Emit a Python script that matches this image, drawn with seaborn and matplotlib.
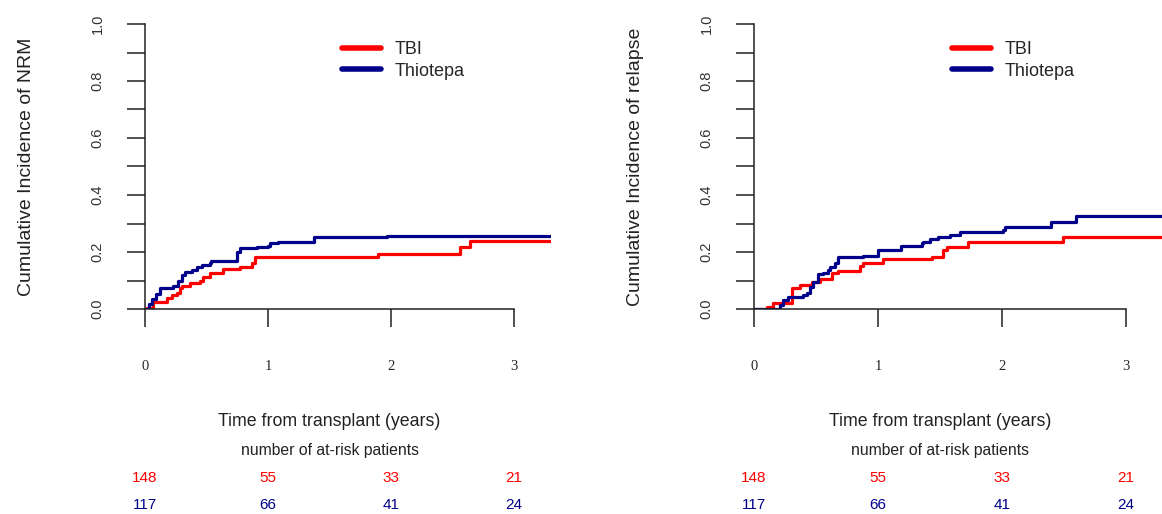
import numpy as np
import pandas as pd
import matplotlib
matplotlib.use("Agg")
import matplotlib.pyplot as plt
from matplotlib.lines import Line2D
from matplotlib.ticker import MultipleLocator
import seaborn as sns

# step curves (time in years, cumulative incidence)
nrm_tbi_t = [0, 0.02, 0.068, 0.176, 0.217, 0.258, 0.285, 0.298, 0.366, 0.447, 0.469,
             0.528, 0.637, 0.772, 0.867, 0.894, 1.897, 2.561, 2.642, 3.3]
nrm_tbi_y = [0, 0.004, 0.026, 0.037, 0.049, 0.055, 0.072, 0.081, 0.090, 0.098, 0.111,
             0.125, 0.139, 0.146, 0.160, 0.181, 0.193, 0.219, 0.239, 0.239]
nrm_thio_t = [0, 0.03, 0.06, 0.09, 0.122, 0.23, 0.27, 0.298, 0.325, 0.38, 0.42, 0.46,
              0.53, 0.54, 0.745, 0.77, 0.91, 1.00, 1.016, 1.08, 1.37, 1.965, 3.3]
nrm_thio_y = [0, 0.018, 0.036, 0.054, 0.072, 0.080, 0.100, 0.119, 0.131, 0.137, 0.146, 0.154,
              0.160, 0.168, 0.201, 0.213, 0.219, 0.222, 0.233, 0.236, 0.251, 0.257, 0.257]

rel_tbi_t = [0, 0.102, 0.156, 0.21, 0.304, 0.371, 0.465, 0.532, 0.627, 0.680, 0.855,
             0.882, 1.043, 1.433, 1.527, 1.554, 1.728, 2.494, 3.3]
rel_tbi_y = [0, 0.008, 0.020, 0.022, 0.072, 0.084, 0.096, 0.104, 0.125, 0.134, 0.151,
             0.163, 0.174, 0.184, 0.207, 0.219, 0.236, 0.252, 0.252]
rel_thio_t = [0, 0.21, 0.237, 0.277, 0.398, 0.425, 0.452, 0.478, 0.519, 0.559, 0.599, 0.613,
              0.653, 0.680, 0.882, 1.002, 1.19, 1.352, 1.366, 1.419, 1.486, 1.58, 1.66,
              2.01, 2.024, 2.40, 2.60, 3.3]
rel_thio_y = [0, 0.014, 0.032, 0.041, 0.049, 0.057, 0.078, 0.096, 0.123, 0.125, 0.137, 0.149,
              0.160, 0.181, 0.186, 0.207, 0.221, 0.230, 0.236, 0.245, 0.254, 0.260, 0.271,
              0.277, 0.289, 0.306, 0.326, 0.326]

groups = ["TBI", "Thiotepa"]
colors = {"TBI": "#ff0000", "Thiotepa": "#00008b"}
risk_times = [0, 1, 2, 3]
risk_tbi = [148, 55, 33, 21]
risk_thio = [117, 66, 41, 24]
ylabels = ["Cumulative Incidence of NRM", "Cumulative Incidence of relapse"]


def make_df(tbi_t, tbi_y, thio_t, thio_y):
    return pd.concat([
        pd.DataFrame({"time": tbi_t, "ci": tbi_y, "group": "TBI"}),
        pd.DataFrame({"time": thio_t, "ci": thio_y, "group": "Thiotepa"}),
    ], ignore_index=True)


panels = [make_df(nrm_tbi_t, nrm_tbi_y, nrm_thio_t, nrm_thio_y),
          make_df(rel_tbi_t, rel_tbi_y, rel_thio_t, rel_thio_y)]

sns.set_style("white")
plt.rcParams["font.family"] = ["Liberation Sans", "DejaVu Sans"]

W, H = 1162, 514
fig = plt.figure(figsize=(W / 100, H / 100), dpi=100)
ax_px = [(145, 406), (754, 409)]  # left edge, width in pixels
y0_px, y1_px = 309, 24

for i, df in enumerate(panels):
    left, width = ax_px[i]
    ax = fig.add_axes([left / W, (H - y0_px) / H, width / W, (y0_px - y1_px) / H])
    sns.lineplot(data=df, x="time", y="ci", hue="group", palette=colors,
                 estimator=None, sort=True, drawstyle="steps-post",
                 linewidth=2.3, legend=False, ax=ax)
    ax.set_xlim(0, 3.3)
    ax.set_ylim(0, 1)
    for s in ["top", "right"]:
        ax.spines[s].set_visible(False)
    ax.spines["left"].set_bounds(0, 1)
    ax.spines["bottom"].set_bounds(0, 3)
    for s in ["left", "bottom"]:
        ax.spines[s].set_linewidth(1.1)
        ax.spines[s].set_color("#222222")
    ax.set_xticks(risk_times)
    ax.set_xticklabels([str(t) for t in risk_times], family="Liberation Serif", fontsize=10.5)
    ax.yaxis.set_major_locator(MultipleLocator(0.2))
    ax.yaxis.set_minor_locator(MultipleLocator(0.1))
    ax.set_yticklabels([f"{v:.1f}" for v in ax.get_yticks()], rotation=90, va="center",
                       fontsize=10.5, color="#333333")
    ax.tick_params(axis="both", which="both", direction="out", length=13, width=1.1,
                   color="#222222", left=True, bottom=True)
    ax.tick_params(axis="x", pad=24)
    ax.tick_params(axis="y", pad=16)
    ax.set_xlabel("")
    ax.set_ylabel(ylabels[i], fontsize=14, color="#222222", labelpad=40)

    tr = ax.get_xaxis_transform()
    span = y0_px - y1_px
    ax.text(1.5, -(421 - y0_px) / span, "Time from transplant (years)", transform=tr,
            ha="center", va="center", fontsize=12.8, color="#222222")
    ax.text(1.5, -(450 - y0_px) / span, "number of at-risk patients", transform=tr,
            ha="center", va="center", fontsize=11.3, color="#222222")
    for t, a, b in zip(risk_times, risk_tbi, risk_thio):
        ax.text(t, -(478 - y0_px) / span, str(a), transform=tr, ha="center", va="center",
                fontsize=11, color=colors["TBI"])
        ax.text(t, -(505 - y0_px) / span, str(b), transform=tr, ha="center", va="center",
                fontsize=11, color=colors["Thiotepa"])

    handles = [Line2D([], [], color=colors[g], lw=4, solid_capstyle="round") for g in groups]
    ax.legend(handles, groups, loc="upper left", bbox_to_anchor=(0.485, 0.94),
              frameon=False, fontsize=13, handlelength=2.15, handletextpad=0.75,
              labelspacing=0.25, borderpad=0, borderaxespad=0)

fig.savefig("out.png", dpi=100)
